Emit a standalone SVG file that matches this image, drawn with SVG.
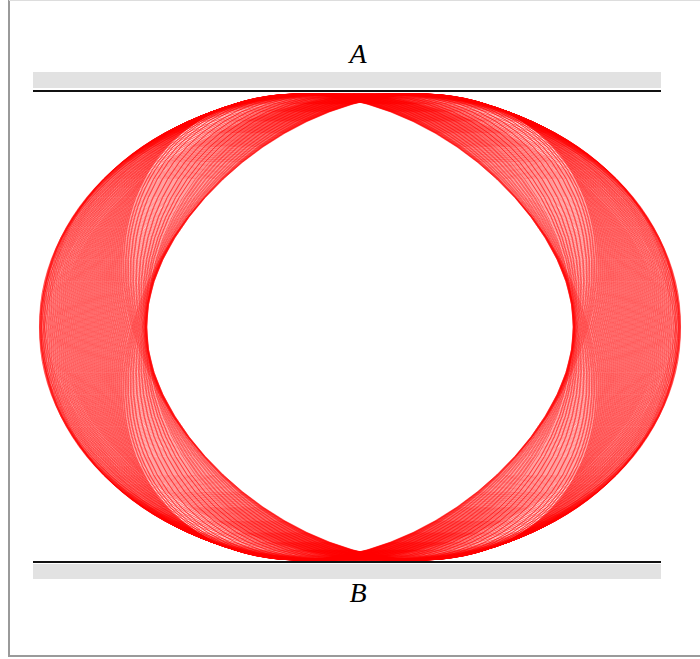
<svg xmlns="http://www.w3.org/2000/svg" xmlns:xlink="http://www.w3.org/1999/xlink" width="700" height="659" viewBox="0 0 700 659">
<style>
.plate{fill:#e2e2e2}
.wall{stroke:#111;stroke-width:2;fill:none}
.frame{stroke:#9a9a9a;stroke-width:2;fill:none}
.lbl{font-family:"Liberation Serif","DejaVu Serif",serif;font-style:italic;font-size:28px;fill:#000;text-anchor:middle}
.orb circle{fill:none;stroke:#ff0000;stroke-width:0.42;vector-effect:non-scaling-stroke}
</style>
<rect width="700" height="659" fill="#fff"/>
<g id="frame">
<line class="frame" x1="9" y1="0" x2="9" y2="656"/>
<line class="frame" x1="8" y1="656" x2="700" y2="656"/>
<line x1="9" y1="0.5" x2="700" y2="0.5" stroke="#dddddd" stroke-width="1"/>
</g>
<g id="plateA">
<rect class="plate" x="33" y="72" width="628" height="16"/>
<line class="wall" x1="33" y1="91" x2="661" y2="91"/>
<text class="lbl" x="358" y="63">A</text>
</g>
<g id="plateB">
<rect class="plate" x="33" y="564" width="628" height="15"/>
<line class="wall" x1="33" y1="562" x2="661" y2="562"/>
<text class="lbl" x="358" y="602">B</text>
</g>
<g id="orbits" class="orb">
<circle r="1" transform="matrix(213.1 0 0 233 360 327)"/>
<circle r="1" transform="matrix(320 0 0 233 360 327)"/>
<g id="both">
<g id="half">
<circle r="1" transform="matrix(213.3 0 6 233 360 327)"/>
<circle r="1" transform="matrix(213.6 0 12 233 360 327)"/>
<circle r="1" transform="matrix(214.3 0 18.5 233 360 327)"/>
<circle r="1" transform="matrix(215 0 25 233 360 327)"/>
<circle r="1" transform="matrix(216.25 0 31.5 233 360 327)"/>
<circle r="1" transform="matrix(217.5 0 38 233 360 327)"/>
<circle r="1" transform="matrix(219.25 0 44 233 360 327)"/>
<circle r="1" transform="matrix(221 0 50 233 360 327)"/>
<circle r="1" transform="matrix(222.75 0 53.75 233 360 327)"/>
<circle r="1" transform="matrix(224.5 0 57.5 233 360 327)"/>
<circle r="1" transform="matrix(226.25 0 59.75 233 360 327)"/>
<circle r="1" transform="matrix(228 0 62 233 360 327)"/>
<circle r="1" transform="matrix(230.15 0 61.32 233 360 327)"/>
<circle r="1" transform="matrix(232.30 0 60.63 233 360 327)"/>
<circle r="1" transform="matrix(234.45 0 59.95 233 360 327)"/>
<circle r="1" transform="matrix(236.60 0 59.26 233 360 327)"/>
<circle r="1" transform="matrix(238.75 0 58.58 233 360 327)"/>
<circle r="1" transform="matrix(240.90 0 57.90 233 360 327)"/>
<circle r="1" transform="matrix(243.05 0 57.21 233 360 327)"/>
<circle r="1" transform="matrix(245.20 0 56.53 233 360 327)"/>
<circle r="1" transform="matrix(247.35 0 55.84 233 360 327)"/>
<circle r="1" transform="matrix(249.50 0 55.16 233 360 327)"/>
<circle r="1" transform="matrix(251.65 0 54.46 233 360 327)"/>
<circle r="1" transform="matrix(253.80 0 53.77 233 360 327)"/>
<circle r="1" transform="matrix(255.95 0 53.07 233 360 327)"/>
<circle r="1" transform="matrix(258.10 0 52.37 233 360 327)"/>
<circle r="1" transform="matrix(260.25 0 51.67 233 360 327)"/>
<circle r="1" transform="matrix(262.40 0 50.97 233 360 327)"/>
<circle r="1" transform="matrix(264.55 0 50.27 233 360 327)"/>
<circle r="1" transform="matrix(266.70 0 49.57 233 360 327)"/>
<circle r="1" transform="matrix(268.85 0 48.87 233 360 327)"/>
<circle r="1" transform="matrix(271.00 0 48.08 233 360 327)"/>
<circle r="1" transform="matrix(273.15 0 47.16 233 360 327)"/>
<circle r="1" transform="matrix(275.30 0 46.25 233 360 327)"/>
<circle r="1" transform="matrix(277.45 0 45.33 233 360 327)"/>
<circle r="1" transform="matrix(279.60 0 44.42 233 360 327)"/>
<circle r="1" transform="matrix(281.75 0 43.51 233 360 327)"/>
<circle r="1" transform="matrix(283.90 0 42.59 233 360 327)"/>
<circle r="1" transform="matrix(286.05 0 41.68 233 360 327)"/>
<circle r="1" transform="matrix(288.20 0 40.77 233 360 327)"/>
<circle r="1" transform="matrix(290.35 0 39.80 233 360 327)"/>
<circle r="1" transform="matrix(292.50 0 38.58 233 360 327)"/>
<circle r="1" transform="matrix(294.65 0 37.36 233 360 327)"/>
<circle r="1" transform="matrix(296.80 0 36.15 233 360 327)"/>
<circle r="1" transform="matrix(298.95 0 34.93 233 360 327)"/>
<circle r="1" transform="matrix(301.10 0 33.71 233 360 327)"/>
<circle r="1" transform="matrix(303.25 0 32.49 233 360 327)"/>
<circle r="1" transform="matrix(305.40 0 31.03 233 360 327)"/>
<circle r="1" transform="matrix(307.55 0 28.52 233 360 327)"/>
<circle r="1" transform="matrix(309.70 0 26.02 233 360 327)"/>
<circle r="1" transform="matrix(311.85 0 23.51 233 360 327)"/>
<circle r="1" transform="matrix(314.00 0 21.00 233 360 327)"/>
<circle r="1" transform="matrix(315.50 0 17.33 233 360 327)"/>
<circle r="1" transform="matrix(317.00 0 13.67 233 360 327)"/>
<circle r="1" transform="matrix(318.50 0 10.00 233 360 327)"/>
<circle r="1" transform="matrix(319.25 0 5.00 233 360 327)"/>
</g>
<use xlink:href="#half" href="#half" transform="matrix(1.004 0 -0.0026 1 -0.59 0)"/>
</g>
<use xlink:href="#both" href="#both" transform="matrix(-1 0 0 1 720 0)"/>
</g>
</svg>
